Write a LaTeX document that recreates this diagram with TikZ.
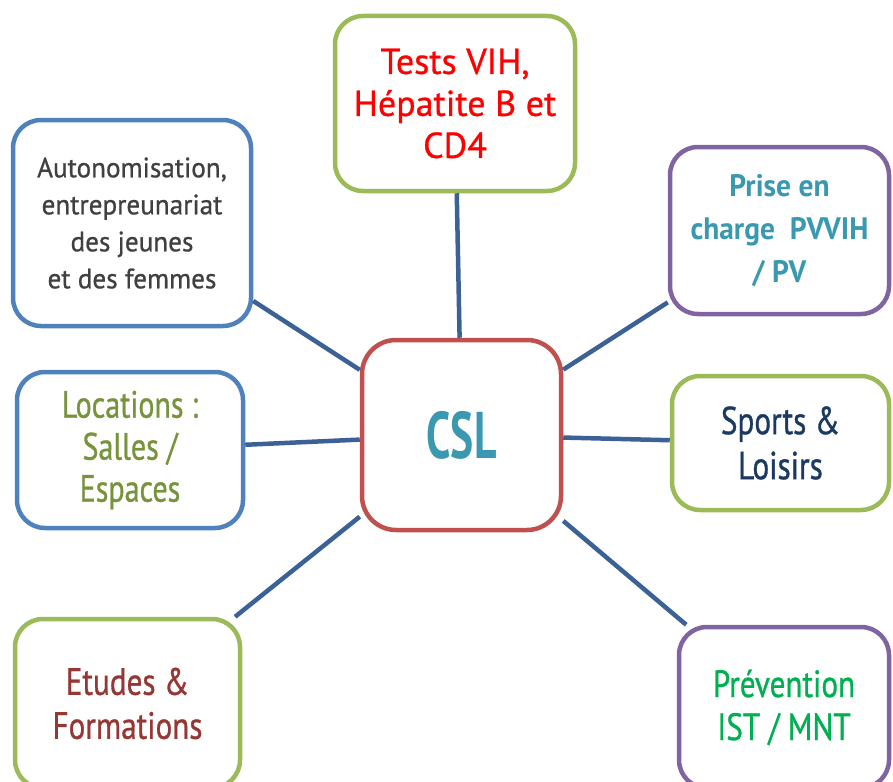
\documentclass[tikz,border=0pt]{standalone}
\usepackage{fontspec}
\newfontfamily\fTests{PT Sans}[FakeStretch=1.0, FakeBold=0.8]
\newfontfamily\fAuto{PT Sans}[FakeStretch=0.97, FakeBold=0.8]
\newfontfamily\fPrise{PT Sans Bold}[FakeStretch=0.95]
\newfontfamily\fCsl{PT Sans Bold}[FakeStretch=0.66]
\newfontfamily\fSports{PT Sans}[FakeStretch=0.8, FakeBold=0.8]
\newfontfamily\fLoc{PT Sans}[FakeStretch=0.79, FakeBold=0.8]
\newfontfamily\fEt{PT Sans}[FakeStretch=0.82, FakeBold=0.8]
\newfontfamily\fPrev{PT Sans}[FakeStretch=0.82, FakeBold=0.8]
\definecolor{bgreen}{HTML}{9BBB59}
\definecolor{bblue}{HTML}{4F81BD}
\definecolor{bpurple}{HTML}{8064A2}
\definecolor{bred}{HTML}{C0504D}
\definecolor{link}{HTML}{3B6196}
\definecolor{tred}{HTML}{FF0000}
\definecolor{tgray}{HTML}{404040}
\definecolor{tteal}{HTML}{3A98B0}
\definecolor{tnavy}{HTML}{1B3A62}
\definecolor{tolive}{HTML}{77933C}
\definecolor{tbrick}{HTML}{953735}
\definecolor{tgreen}{HTML}{00B050}
\tikzset{
  box/.style={draw, line width=4.5pt, rounded corners=28pt, fill=white, align=center, inner sep=0pt},
  conn/.style={draw=link, line width=4.5pt}
}
\begin{document}
\begin{tikzpicture}[x=1pt,y=-1pt]
\useasboundingbox (0,0) rectangle (893,781);
\clip (0,0) rectangle (893,781);
% nodes
\node[box, draw=bred, rounded corners=34pt, minimum width=199pt, minimum height=190pt,
  font={\fCsl\fontsize{66}{70}\selectfont}, text=tteal] (csl) at (461.5,435) {CSL};
\node[box, draw=bgreen, minimum width=240pt, minimum height=175pt,
  font={\fTests\fontsize{36}{42}\selectfont}, text=tred] (tests) at (455,103.5) {Tests VIH,\\Hépatite B et\\CD4};
\node[box, draw=bblue, minimum width=238pt, minimum height=206pt,
  font={\fAuto\fontsize{28}{37}\selectfont}, text=tgray] (auto) at (132,223) {Autonomisation,\\entrepreunariat\\des jeunes\\et des femmes};
\node[box, draw=bpurple, minimum width=219pt, minimum height=167pt,
  font={\fPrise\fontsize{31}{43}\selectfont}, text=tteal] (prise) at (779.5,230.5) {Prise en\\charge~ PVVIH\\/ PV};
\node[box, draw=bblue, minimum width=226pt, minimum height=156pt,
  font={\fLoc\fontsize{38}{42}\selectfont}, text=tolive] (loc) at (130,450) {Locations :\\Salles /\\Espaces};
\node[box, draw=bgreen, minimum width=217pt, minimum height=134pt,
  font={\fSports\fontsize{39}{45}\selectfont}, text=tnavy] (sports) at (780.5,443) {Sports \&\\Loisirs};
\node[box, draw=bgreen, minimum width=225pt, minimum height=169pt,
  font={\fEt\fontsize{38}{44}\selectfont}, text=tbrick] (etudes) at (127.5,703.5) {Etudes \&\\Formations};
\node[box, draw=bpurple, minimum width=210pt, minimum height=161pt,
  font={\fPrev\fontsize{38}{43}\selectfont}, text=tgreen] (prev) at (784,707.5) {Prévention\\IST / MNT};
% connectors
\draw[conn] (tests) -- (csl);
\draw[conn] (auto) -- (csl);
\draw[conn] (loc) -- (csl);
\draw[conn] (etudes) -- (csl);
\draw[conn] (prise) -- (csl);
\draw[conn] (sports) -- (csl);
\draw[conn] (prev) -- (csl);
\end{tikzpicture}
\end{document}
